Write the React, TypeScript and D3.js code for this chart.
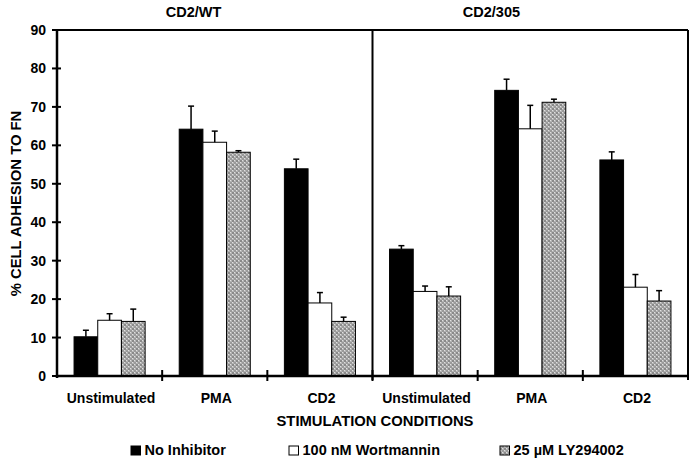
import React from "react";
import * as d3 from "d3";

const categories = ["Unstimulated", "PMA", "CD2", "Unstimulated", "PMA", "CD2"];
const panels = ["CD2/WT", "CD2/305"];
const seriesNames = ["No Inhibitor", "100 nM Wortmannin", "25 µM LY294002"];
const noInhibitor = [10.2, 64.2, 53.9, 33.0, 74.3, 56.2];
const noInhibitorErr = [1.7, 6.0, 2.5, 0.9, 2.9, 2.1];
const wortmannin = [14.5, 60.8, 19.0, 22.0, 64.3, 23.1];
const wortmanninErr = [1.7, 2.9, 2.7, 1.4, 6.1, 3.3];
const ly294002 = [14.2, 58.2, 14.2, 20.8, 71.2, 19.5];
const ly294002Err = [3.2, 0.4, 1.1, 2.4, 0.8, 2.7];
const yTicks = [0, 10, 20, 30, 40, 50, 60, 70, 80, 90];

const W = 696;
const H = 461;
const left = 57;
const right = 688;
const top = 30;
const bottom = 376;
const FONT = "'Liberation Sans', Arial, Helvetica, sans-serif";

export default function App() {
  const values = [noInhibitor, wortmannin, ly294002];
  const errs = [noInhibitorErr, wortmanninErr, ly294002Err];
  const fills = ["#000", "#fff", "url(#grayPat)"];

  const x0 = d3.scaleBand<number>().domain(d3.range(categories.length)).range([left, right]).padding(0);
  const x1 = d3.scaleBand<number>().domain([0, 1, 2]).range([0, x0.bandwidth()]).paddingInner(0).paddingOuter(0.72);
  const y = d3.scaleLinear().domain([0, 90]).range([bottom, top]);

  const mid = x0(3)!;
  const panelTitleX = [left + (mid - left) * 0.433, mid + (right - mid) * 0.377];
  const legendX = [131, 289, 500];

  return (
    <svg width={W} height={H} style={{ position: "absolute", left: 0, top: 0, background: "#fff" }} fontFamily={FONT} fontWeight="bold">
      <defs>
        <pattern id="grayPat" width="4" height="4" patternUnits="userSpaceOnUse">
          <rect width="4" height="4" fill="#b4b4b4" />
          <rect x="0" y="0" width="2" height="2" fill="#8a8a8a" />
          <rect x="2" y="2" width="2" height="2" fill="#9a9a9a" />
          <rect x="2" y="0" width="1" height="1" fill="#e0e0e0" />
          <rect x="0" y="2" width="1" height="1" fill="#e0e0e0" />
        </pattern>
      </defs>
      <rect width={W} height={H} fill="#fff" />

      {/* bars */}
      {categories.map((c, i) =>
        values.map((vals, s) => {
          const bx = x0(i)! + x1(s)!;
          const bw = x1.bandwidth();
          const v = vals[i];
          return (
            <g key={`b${i}-${s}`}>
              <rect x={bx} y={y(v)} width={bw} height={y(0) - y(v)} fill={fills[s]} stroke="#000" strokeWidth={1} />
              <line x1={bx + bw / 2} x2={bx + bw / 2} y1={y(v)} y2={y(v + errs[s][i])} stroke="#000" strokeWidth={1.5} />
              <line x1={bx + bw / 2 - 3} x2={bx + bw / 2 + 3} y1={y(v + errs[s][i])} y2={y(v + errs[s][i])} stroke="#000" strokeWidth={1.5} />
            </g>
          );
        })
      )}

      {/* frame */}
      <line x1={left} x2={right} y1={top} y2={top} stroke="#000" strokeWidth={2} />
      <line x1={right} x2={right} y1={top} y2={bottom + 4} stroke="#000" strokeWidth={2} />
      <line x1={mid} x2={mid} y1={top} y2={bottom + 4} stroke="#000" strokeWidth={2} />
      <line x1={left} x2={left} y1={top} y2={bottom + 2} stroke="#000" strokeWidth={2.5} />
      <line x1={left} x2={right} y1={bottom} y2={bottom} stroke="#000" strokeWidth={2.5} />

      {/* y ticks */}
      {yTicks.map((t) => (
        <g key={`t${t}`}>
          <line x1={left - 5} x2={left + 4} y1={y(t)} y2={y(t)} stroke="#000" strokeWidth={2} />
          <text x={left - 11} y={y(t) + 5} textAnchor="end" fontSize={14}>
            {t}
          </text>
        </g>
      ))}

      {/* category ticks */}
      {categories.map((c, i) =>
        i === 0 ? null : (
          <line key={`ct${i}`} x1={x0(i)!} x2={x0(i)!} y1={bottom - 6} y2={bottom + 5} stroke="#000" strokeWidth={2} />
        )
      )}

      {/* category labels */}
      {categories.map((c, i) => (
        <text key={`cl${i}`} x={x0(i)! + x0.bandwidth() / 2 + 1.5} y={403} textAnchor="middle" fontSize={14}>
          {c}
        </text>
      ))}

      {/* panel titles */}
      {panels.map((p, i) => (
        <text key={`p${i}`} x={panelTitleX[i]} y={17} textAnchor="middle" fontSize={14.5}>
          {p}
        </text>
      ))}

      {/* axis titles */}
      <text x={375} y={425.5} textAnchor="middle" fontSize={14.8}>
        STIMULATION CONDITIONS
      </text>
      <text transform={`translate(20.5, 203.5) rotate(-90)`} textAnchor="middle" fontSize={14.8}>
        % CELL ADHESION TO FN
      </text>

      {/* legend */}
      {seriesNames.map((n, s) => (
        <g key={`l${s}`}>
          <rect x={legendX[s]} y={446} width={9.5} height={9} fill={fills[s]} stroke="#000" strokeWidth={1} />
          <text x={legendX[s] + 13.5} y={454.5} fontSize={14.5}>
            {n}
          </text>
        </g>
      ))}
    </svg>
  );
}
